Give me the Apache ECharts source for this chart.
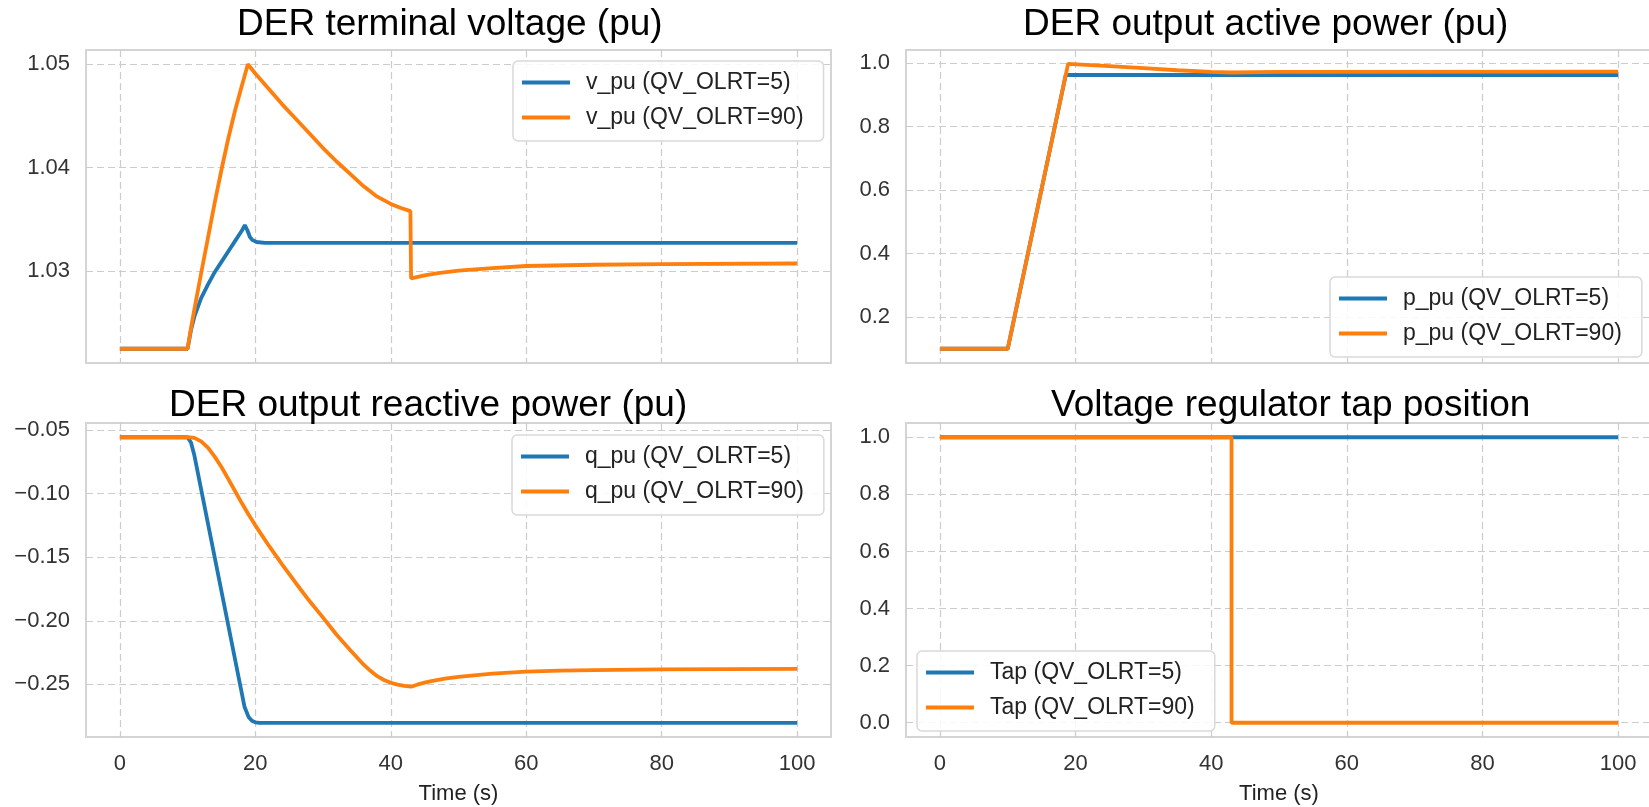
<!DOCTYPE html>
<html>
<head>
<meta charset="utf-8">
<title>DER response, QV_OLRT=5 vs 90</title>
<script src="https://cdn.jsdelivr.net/npm/echarts@6.0.0/dist/echarts.min.js"></script>
<style>
  html, body { margin: 0; padding: 0; background: #fff; }
  #main { width: 1649px; height: 807px; }
</style>
</head>
<body>
<div id="main"></div>
<script>
// tick labels
const timeTicks = [0, 20, 40, 60, 80, 100];
const vTicks = [1.03, 1.04, 1.05];
const pTicks = [0.2, 0.4, 0.6, 0.8, 1.0];
const qTicks = [-0.25, -0.20, -0.15, -0.10, -0.05];
const tapTicks = [0, 0.2, 0.4, 0.6, 0.8, 1.0];

// DER terminal voltage (pu)
const vTime5 = [0, 10, 10.5, 11, 12, 13, 14, 15, 16, 17, 18, 18.45, 18.8, 19.2, 19.6, 20.2, 21.4, 100];
const v5 = [1.0225, 1.0225, 1.0243, 1.0256, 1.0274, 1.0287, 1.0299, 1.0309, 1.0319, 1.0329, 1.0339, 1.03444, 1.0340, 1.0333, 1.0330, 1.03282, 1.03274, 1.03274];
const vTime90 = [0, 10, 10.5, 11, 12, 13, 14, 15, 16, 17, 18, 18.9, 20, 22, 24, 26, 28, 30, 32, 34, 36, 38, 40, 41.5, 42.9, 43.0, 44, 45, 47, 50, 55, 60, 70, 80, 100];
const v90 = [1.0225, 1.0225, 1.0245, 1.0263, 1.0298, 1.0332, 1.0366, 1.0398, 1.0428, 1.0455, 1.0479, 1.0500, 1.0491, 1.0476, 1.0461, 1.0447, 1.0433, 1.0419, 1.0406, 1.0394, 1.0382, 1.0372, 1.0365, 1.0361, 1.0358, 1.0293, 1.02945, 1.0296, 1.0298, 1.03005, 1.0303, 1.0305, 1.03062, 1.03068, 1.03074];

// DER output active power (pu)
const pTime5 = [0, 10, 18.55, 100];
const p5 = [0.1, 0.1, 0.962, 0.962];
const pTime90 = [0, 10, 18.9, 25, 30, 35, 40, 43, 50, 100];
const p90 = [0.1, 0.1, 0.997, 0.990, 0.984, 0.977, 0.972, 0.970, 0.972, 0.973];

// DER output reactive power (pu)
const qTime5 = [0, 10, 10.2, 10.5, 11, 18.4, 19.0, 19.5, 20.0, 20.6, 100];
const q5 = [-0.0558, -0.0558, -0.0562, -0.0600, -0.0700, -0.2675, -0.2755, -0.2785, -0.2798, -0.2802, -0.2802];
const qTime90 = [0, 10, 11, 12, 13, 14, 15, 16, 17, 18, 19, 20, 22, 24, 26, 28, 30, 32, 34, 36, 37, 38, 39, 40, 41, 42, 43, 44, 45, 46, 48, 50, 55, 60, 65, 70, 80, 90, 100];
const q90 = [-0.0558, -0.0558, -0.0563, -0.0590, -0.0640, -0.0710, -0.0792, -0.0885, -0.0980, -0.1075, -0.1165, -0.1250, -0.1410, -0.1560, -0.1705, -0.1845, -0.1975, -0.2110, -0.2230, -0.2345, -0.2393, -0.2435, -0.2465, -0.2487, -0.2502, -0.2512, -0.2518, -0.2500, -0.2486, -0.2474, -0.2455, -0.2440, -0.2415, -0.2400, -0.2392, -0.2387, -0.2381, -0.2379, -0.2378];

// Voltage regulator tap position
const tapTime5 = [0, 100];
const tap5 = [1, 1];
const tapTime90 = [0, 43, 43, 100];
const tap90 = [1, 1, 0, 0];

const BLUE = '#1f77b4';
const ORANGE = '#ff7f0e';
const fontFamily = '"Liberation Sans", Arial, sans-serif';

const pair = (xs, ys) => xs.map((x, i) => [x, ys[i]]);

function makeGrid(left, top, width, height) {
    return {
        left, top, width, height,
        show: true, backgroundColor: '#fff',
        borderColor: '#d4d4d4', borderWidth: 2,
        containLabel: false, outerBoundsMode: 'none'
    };
}

const splitStyle = { show: true, lineStyle: { color: '#cccccc', width: 1.2, type: [7, 4] } };

function makeX(gridIndex, bottomRow) {
    return {
        type: 'value', gridIndex, min: -5, max: 105,
        axisLine: { show: false },
        axisTick: { show: false, customValues: timeTicks },
        axisLabel: { show: bottomRow, customValues: timeTicks, fontSize: 22, color: '#333', margin: 16, fontFamily },
        splitLine: splitStyle,
        name: bottomRow ? 'Time (s)' : '',
        nameLocation: 'middle', nameGap: 46,
        nameTextStyle: { fontSize: 22, color: '#222', fontFamily }
    };
}

function makeY(gridIndex, min, max, ticks, digits) {
    return {
        type: 'value', gridIndex, min, max, scale: true,
        axisLine: { show: false },
        axisTick: { show: false, customValues: ticks },
        axisLabel: {
            customValues: ticks, fontSize: 22, color: '#333', margin: 16, fontFamily,
            formatter: v => (v < 0 ? '\u2212' : '') + Math.abs(v).toFixed(digits)
        },
        splitLine: splitStyle
    };
}

function makeLine(name, idx, xs, ys, color) {
    return {
        name, type: 'line', xAxisIndex: idx, yAxisIndex: idx,
        data: pair(xs, ys), showSymbol: false, symbol: 'none',
        lineStyle: { width: 3.8, color }, itemStyle: { color },
        emphasis: { disabled: true }
    };
}

function makeLegend(names, left, top) {
    return {
        data: names, orient: 'vertical', left, top,
        icon: 'rect', itemWidth: 48, itemHeight: 4, itemGap: 12,
        padding: [10, 20, 12, 9],
        backgroundColor: 'rgba(255,255,255,0.85)',
        borderColor: '#d9d9d9', borderWidth: 1.5, borderRadius: 5,
        selectedMode: false,
        textStyle: { fontSize: 23, lineHeight: 23, color: '#222', fontFamily, padding: [0, 0, 0, 11] }
    };
}

function makeTitle(text, left, top) {
    return {
        text, left, top, padding: 0,
        textStyle: { fontSize: 37, lineHeight: 37, fontWeight: 'normal', color: '#000', fontFamily }
    };
}

const chart = echarts.init(document.getElementById('main'));

chart.setOption({
    animation: false,
    backgroundColor: '#fff',
    title: [
        makeTitle('DER terminal voltage (pu)', 237, 6),
        makeTitle('DER output active power (pu)', 1023, 6),
        makeTitle('DER output reactive power (pu)', 169, 387),
        makeTitle('Voltage regulator tap position', 1051, 387)
    ],
    grid: [
        makeGrid(86, 50, 745, 313),
        makeGrid(906, 50, 746, 313),
        makeGrid(86, 423, 745, 314),
        makeGrid(906, 423, 746, 314)
    ],
    xAxis: [makeX(0, false), makeX(1, false), makeX(2, true), makeX(3, true)],
    yAxis: [
        makeY(0, 1.021125, 1.051375, vTicks, 2),
        makeY(1, 0.0552, 1.0408, pTicks, 1),
        makeY(2, -0.2913, -0.0446, qTicks, 2),
        makeY(3, -0.05, 1.05, tapTicks, 1)
    ],
    legend: [
        makeLegend(['v_pu (QV_OLRT=5)', 'v_pu (QV_OLRT=90)'], 513, 61),
        makeLegend(['p_pu (QV_OLRT=5)', 'p_pu (QV_OLRT=90)'], 1330, 277),
        makeLegend(['q_pu (QV_OLRT=5)', 'q_pu (QV_OLRT=90)'], 512, 435),
        makeLegend(['Tap (QV_OLRT=5)', 'Tap (QV_OLRT=90)'], 917, 651)
    ],
    series: [
        makeLine('v_pu (QV_OLRT=5)', 0, vTime5, v5, BLUE),
        makeLine('v_pu (QV_OLRT=90)', 0, vTime90, v90, ORANGE),
        makeLine('p_pu (QV_OLRT=5)', 1, pTime5, p5, BLUE),
        makeLine('p_pu (QV_OLRT=90)', 1, pTime90, p90, ORANGE),
        makeLine('q_pu (QV_OLRT=5)', 2, qTime5, q5, BLUE),
        makeLine('q_pu (QV_OLRT=90)', 2, qTime90, q90, ORANGE),
        makeLine('Tap (QV_OLRT=5)', 3, tapTime5, tap5, BLUE),
        makeLine('Tap (QV_OLRT=90)', 3, tapTime90, tap90, ORANGE)
    ]
});
</script>
</body>
</html>
